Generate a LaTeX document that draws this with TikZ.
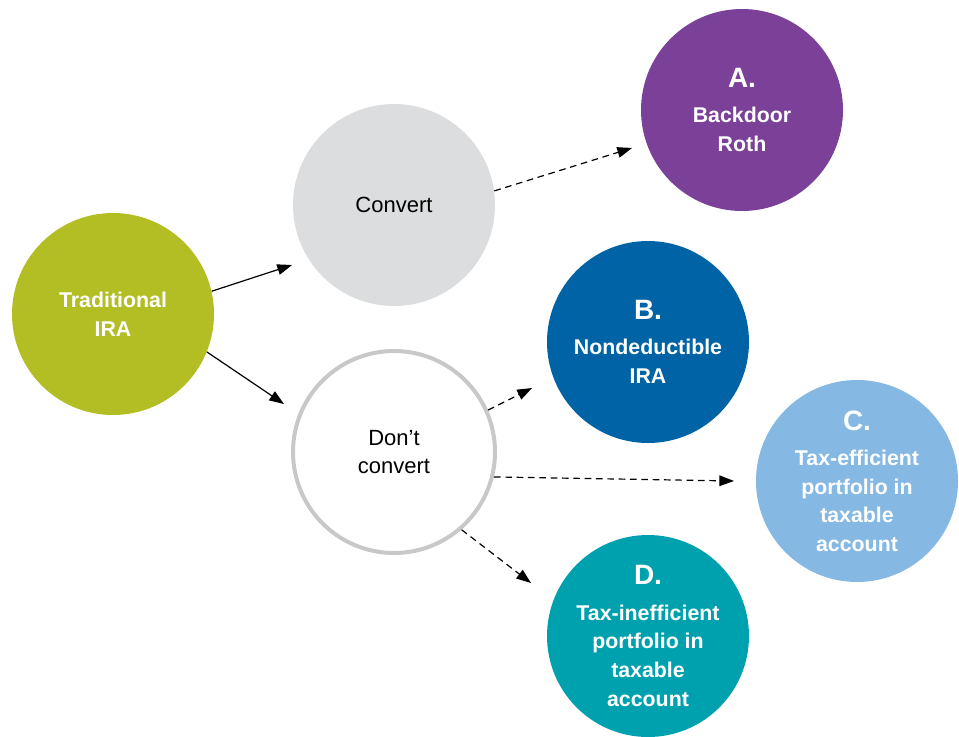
\documentclass[tikz,border=0pt]{standalone}
\usepackage{fontspec}
\setmainfont{Liberation Sans}
\usetikzlibrary{arrows.meta}

\definecolor{iragreen}{RGB}{178,190,35}
\definecolor{convgray}{RGB}{220,221,222}
\definecolor{ringgray}{RGB}{200,200,200}
\definecolor{rothpurple}{RGB}{123,64,152}
\definecolor{ndblue}{RGB}{0,99,165}
\definecolor{effblue}{RGB}{133,185,228}
\definecolor{ineffteal}{RGB}{0,161,174}

\tikzset{
  bubble/.style={circle, minimum size=151.5pt, inner sep=0pt, align=center,
    font=\fontsize{16.5}{20.5}\selectfont},
  outcome/.style={bubble, text=white, font=\bfseries\fontsize{16}{21.5}\selectfont},
  flow/.style={-{Triangle[length=11pt,width=8pt]}, line width=0.9pt},
  maybe/.style={flow, dash pattern=on 5pt off 3.5pt},
}
\newcommand{\choice}[1]{{\fontsize{21}{21}\selectfont #1}\\[5pt]}

\begin{document}
\begin{tikzpicture}[x=0.75pt,y=0.75pt,yscale=-1,xscale=1]
\useasboundingbox (0,0) rectangle (959,736);

%Shape: Circles
\node [outcome, fill=iragreen] (trad) at (113,314) {Traditional\\IRA};
\node [bubble, fill=convgray] (conv) at (394,205) {Convert};
\node [bubble, draw=ringgray, line width=3pt, fill=white] (dont) at (394,452) {Don’t\\convert};
\node [outcome, fill=rothpurple] (roth) at (742,110) {\choice{A.}Backdoor\\Roth};
\node [outcome, fill=ndblue] (ndira) at (648,342) {\choice{B.}Nondeductible\\IRA};
\node [outcome, fill=effblue] (eff) at (857,481) {\choice{C.}Tax-efficient\\portfolio in\\taxable\\account};
\node [outcome, fill=ineffteal] (ineff) at (648,636) {\choice{D.}Tax-inefficient\\portfolio in\\taxable\\account};

%Arrow tips
\coordinate (toconv) at (292,265);
\coordinate (todont) at (284,404);
\coordinate (toroth) at (632,148);
\coordinate (tonda) at (532,388);
\coordinate (toeff) at (734,481);
\coordinate (toineff) at (531,583);

%Straight Lines
\draw [flow] (trad.13) -- (toconv);
\draw [flow] (trad.-22) -- (todont);
\draw [maybe] (conv.8) -- (toroth);
\draw [maybe] (dont.24) -- (tonda);
\draw [maybe] (dont.-14) -- (toeff);
\draw [maybe] (dont.-49) -- (toineff);

\end{tikzpicture}
\end{document}
